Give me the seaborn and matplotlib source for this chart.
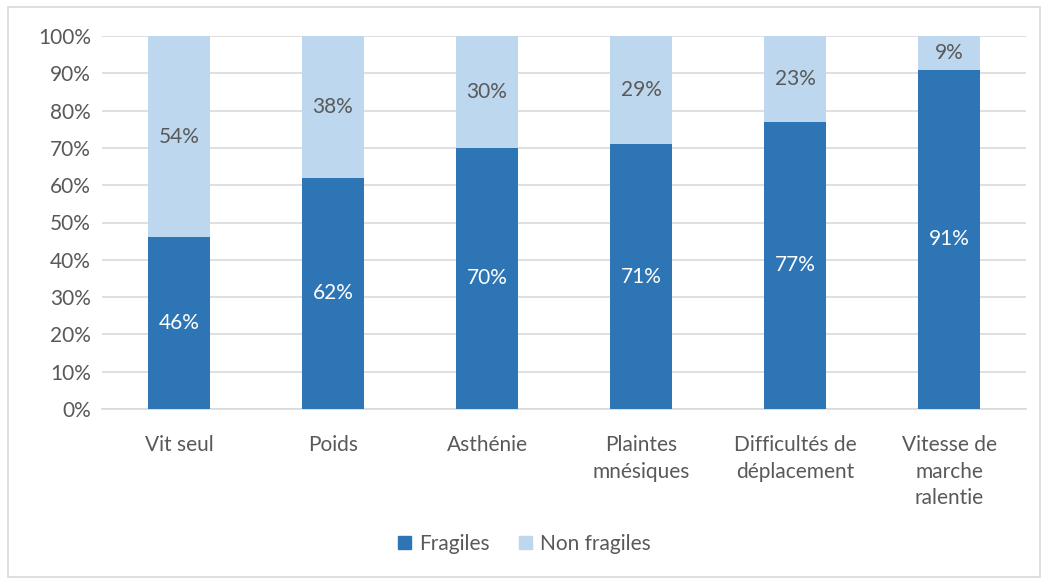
import matplotlib
matplotlib.use("Agg")
import matplotlib.pyplot as plt
from matplotlib.patches import Rectangle
import seaborn as sns
import pandas as pd

categories = ["Vit seul", "Poids", "Asthénie", "Plaintes\nmnésiques",
              "Difficultés de\ndéplacement", "Vitesse de\nmarche\nralentie"]
fragiles = [46, 62, 70, 71, 77, 91]
non_fragiles = [54, 38, 30, 29, 23, 9]
y_ticks = [0, 10, 20, 30, 40, 50, 60, 70, 80, 90, 100]

dark_blue = "#2E75B6"
light_blue = "#BDD7EE"
text_gray = "#595959"
fs = 15

sns.set_theme(style="white")
plt.rcParams["font.family"] = ["Lato", "DejaVu Sans"]

df = pd.DataFrame({"cat": categories, "Fragiles": fragiles, "Non fragiles": non_fragiles})
df["total"] = df["Fragiles"] + df["Non fragiles"]

fig = plt.figure(figsize=(10.49, 5.84), dpi=100)
ax = fig.add_axes([102 / 1049, 1 - 409 / 584, (1026 - 102) / 1049, (409 - 36) / 584])

sns.barplot(data=df, x="cat", y="total", color=light_blue, width=0.4,
            saturation=1, linewidth=0, ax=ax, zorder=2)
sns.barplot(data=df, x="cat", y="Fragiles", color=dark_blue, width=0.4,
            saturation=1, linewidth=0, ax=ax, zorder=3)

for i, (f, n) in enumerate(zip(fragiles, non_fragiles)):
    ax.text(i, f / 2, f"{f}%", ha="center", va="center", color="white",
            fontsize=fs, zorder=4)
    ax.text(i, f + n / 2, f"{n}%", ha="center", va="center", color=text_gray,
            fontsize=fs, zorder=4)

ax.set_ylim(0, 100)
ax.set_xlim(-0.5, len(categories) - 0.5)
ax.set_yticks(y_ticks)
ax.set_yticklabels([f"{t}%" for t in y_ticks])
ax.yaxis.grid(True, color="#D9D9D9", linewidth=1.2, zorder=0)
ax.set_axisbelow(True)
for side in ["top", "right", "left"]:
    ax.spines[side].set_visible(False)
ax.spines["bottom"].set_color("#D9D9D9")
ax.spines["bottom"].set_linewidth(1.2)
ax.tick_params(axis="both", length=0, labelsize=fs, labelcolor=text_gray)
ax.tick_params(axis="x", pad=19)
ax.tick_params(axis="y", pad=8)
ax.set_xlabel("")
ax.set_ylabel("")
for lbl in ax.get_xticklabels():
    lbl.set_linespacing(1.4)

handles = [Rectangle((0, 0), 1, 1, color=dark_blue), Rectangle((0, 0), 1, 1, color=light_blue)]
fig.legend(handles, ["Fragiles", "Non fragiles"], loc="center", bbox_to_anchor=(0.5, 1 - 544 / 584),
           ncol=2, frameon=False, fontsize=fs, labelcolor=text_gray,
           handlelength=0.6, handleheight=0.6, handletextpad=0.4, columnspacing=1.4)

fig.patches.append(Rectangle((8 / 1049, 7 / 584), 1 - 17 / 1049, 1 - 14 / 584,
                             transform=fig.transFigure, fill=False,
                             edgecolor="#D9D9D9", linewidth=1.2))

fig.savefig("out.png", dpi=100, facecolor="white")
